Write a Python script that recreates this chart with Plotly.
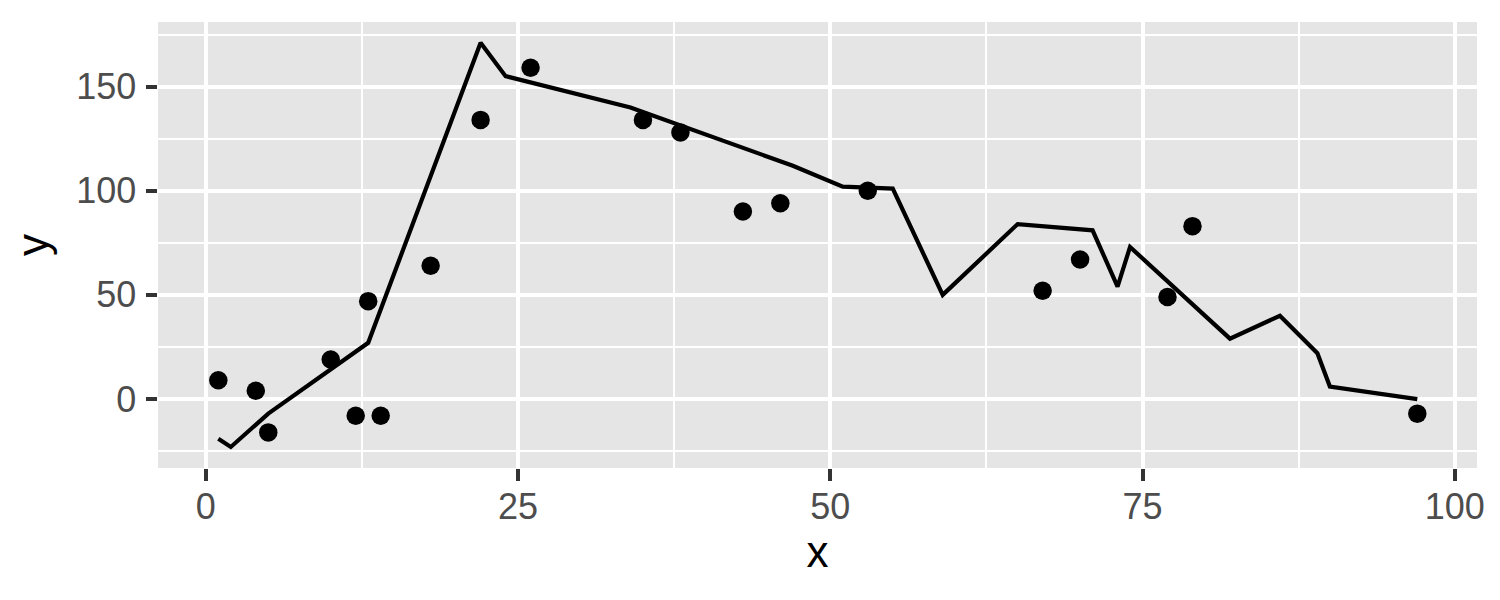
import plotly.graph_objects as go

pt_x = [1, 4, 5, 10, 12, 13, 14, 18, 22, 26, 35, 38, 43, 46, 53, 67, 70, 77, 79, 97]
pt_y = [9, 4, -16, 19, -8, 47, -8, 64, 134, 159, 134, 128, 90, 94, 100, 52, 67, 49, 83, -7]

line_x = [1, 2, 5, 13, 22, 24, 34, 47, 51, 55, 59, 65, 71, 73, 74, 82, 86, 89, 90, 97]
line_y = [-19, -23, -7, 27, 171, 155, 140, 112, 102, 101, 50, 84, 81, 54, 73, 29, 40, 22, 6, 0]

x_ticks = [0, 25, 50, 75, 100]
y_ticks = [0, 50, 100, 150]

fig = go.Figure()
fig.add_trace(go.Scatter(x=line_x, y=line_y, mode="lines",
                         line=dict(color="black", width=4.2), hoverinfo="skip"))
fig.add_trace(go.Scatter(x=pt_x, y=pt_y, mode="markers",
                         marker=dict(color="black", size=18.5, line=dict(width=0))))

axis_common = dict(
    showline=False, zeroline=False,
    gridcolor="white", gridwidth=4.2,
    ticks="outside", ticklen=11.5, tickwidth=4.2, tickcolor="#333333",
    tickfont=dict(family="Liberation Sans, Arial", size=36, color="#4D4D4D"),
    minor=dict(showgrid=True, gridcolor="white", gridwidth=2.1, ticks=""),
)

fig.update_layout(
    width=1500, height=600,
    paper_bgcolor="white", plot_bgcolor="#E5E5E5",
    margin=dict(l=150, r=31, t=14, b=140),
    showlegend=False,
    font=dict(family="Liberation Sans, Arial"),
    xaxis=dict(range=[-3.83, 101.78], tickvals=x_ticks,
               minor_tickvals=[12.5, 37.5, 62.5, 87.5],
               ticklabelstandoff=-5,
               title=dict(text="x", font=dict(size=44, color="black"), standoff=9),
               **axis_common),
    yaxis=dict(range=[-33.1, 181.0], tickvals=y_ticks,
               minor_tickvals=[-25, 25, 75, 125, 175],
               ticklabelstandoff=2,
               title=dict(text="y", font=dict(size=44, color="black"), standoff=17),
               **axis_common),
)

fig.write_html("out.html")
